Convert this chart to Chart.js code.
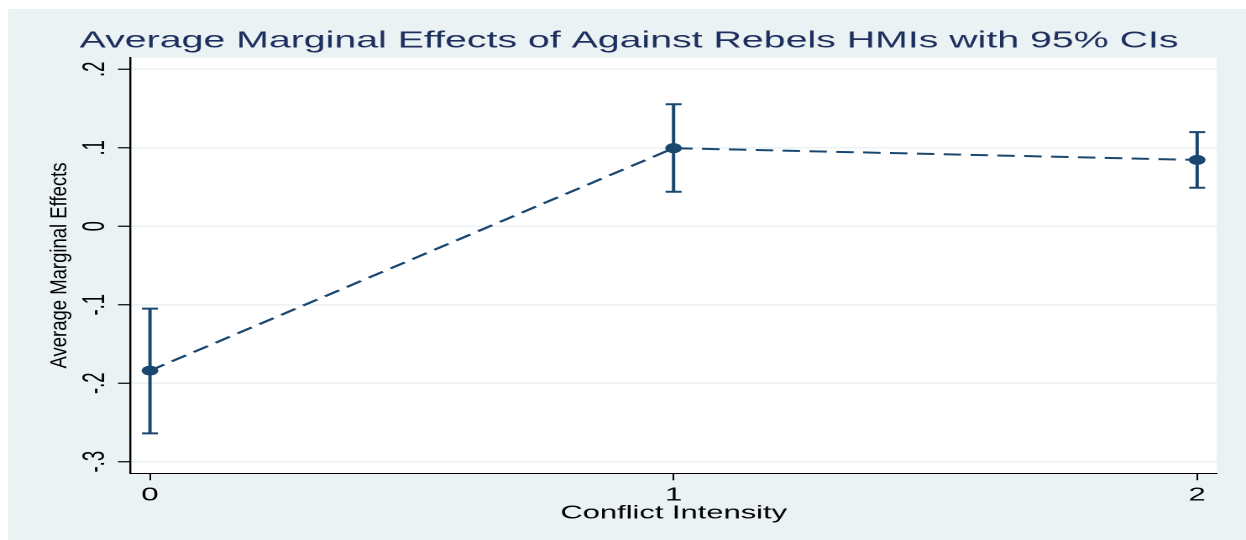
<!DOCTYPE html>
<html>
<head>
<meta charset="utf-8">
<script src="https://cdn.jsdelivr.net/npm/chart.js@4/dist/chart.umd.min.js"></script>
<style>
  html, body { margin: 0; padding: 0; background: #ffffff; overflow: hidden; }
  /* The graph is laid out on a narrower canvas and widened horizontally. */
  #wrap { width: 742px; height: 540px; transform: scaleX(1.679245); transform-origin: 0 0; }
  canvas { display: block; }
</style>
</head>
<body>
<div id="wrap"><canvas id="ame" width="742" height="540"></canvas></div>
<script>
// Conflict intensity levels and average marginal effects with 95% CIs
const intensity = [0, 1, 2];
const margins   = [-0.184, 0.0995, 0.0845];
const ciLower   = [-0.264, 0.044, 0.049];
const ciUpper   = [-0.105, 0.1555, 0.12];

const xTickValues = [0, 1, 2];
const xTickLabels = ['0', '1', '2'];
const yTickValues = [-0.3, -0.2, -0.1, 0, 0.1, 0.2];
const yTickLabels = ['-.3', '-.2', '-.1', '0', '.1', '.2'];

const NAVY = '#1A476F';
const TITLE_NAVY = '#1E2F5E';
const REGION = '#EAF2F3';
const FONT = '"Liberation Sans", Arial, Helvetica, sans-serif';
const STRETCH = 1246 / 742;

// Graph region, plot region
const backdrop = {
  id: 'backdrop',
  beforeDraw(chart) {
    const { ctx, width, height, chartArea: a } = chart;
    ctx.save();
    ctx.fillStyle = '#ffffff';
    ctx.fillRect(0, 0, width, height);
    ctx.fillStyle = REGION;
    ctx.fillRect(8 / STRETCH, 9, width, height);
    ctx.fillStyle = '#ffffff';
    ctx.fillRect(a.left, a.top, a.right - a.left, a.bottom - a.top);
    ctx.restore();
  }
};

// Capped confidence-interval spikes
const ciBars = {
  id: 'ciBars',
  afterDatasetsDraw(chart) {
    const { ctx } = chart;
    const xs = chart.scales.x, ys = chart.scales.y;
    const cap = 4.75;
    ctx.save();
    ctx.strokeStyle = NAVY;
    ctx.lineWidth = 2;
    ctx.lineCap = 'butt';
    intensity.forEach((v, i) => {
      const x = xs.getPixelForValue(v);
      const yHi = ys.getPixelForValue(ciUpper[i]);
      const yLo = ys.getPixelForValue(ciLower[i]);
      ctx.beginPath();
      ctx.moveTo(x, yHi); ctx.lineTo(x, yLo);
      ctx.moveTo(x - cap, yHi); ctx.lineTo(x + cap, yHi);
      ctx.moveTo(x - cap, yLo); ctx.lineTo(x + cap, yLo);
      ctx.stroke();
    });
    ctx.restore();
  }
};

// Vertical y-axis title, set in a condensed face
const yTitle = {
  id: 'yTitle',
  afterDraw(chart) {
    const { ctx, chartArea: a } = chart;
    const text = 'Average Marginal Effects';
    ctx.save();
    ctx.translate(39.7, (a.top + a.bottom) / 2);
    ctx.rotate(-Math.PI / 2);
    ctx.font = '14.2px ' + FONT;
    const w = ctx.measureText(text).width;
    ctx.scale(206 / w, 1);
    ctx.fillStyle = '#000000';
    ctx.textAlign = 'center';
    ctx.textBaseline = 'alphabetic';
    ctx.fillText(text, 0, 0);
    ctx.restore();
  }
};

new Chart(document.getElementById('ame'), {
  type: 'line',
  data: {
    datasets: [{
      data: intensity.map((v, i) => ({ x: v, y: margins[i] })),
      borderColor: NAVY,
      borderWidth: 2,
      borderDash: [10.4, 5.6],
      backgroundColor: NAVY,
      pointBackgroundColor: NAVY,
      pointBorderWidth: 0,
      pointRadius: 5,
      pointHoverRadius: 5,
      tension: 0,
      fill: false
    }]
  },
  options: {
    responsive: false,
    animation: false,
    devicePixelRatio: 2,
    layout: { padding: { left: 24.6, right: 17.4, top: 0, bottom: 0 } },
    plugins: {
      legend: { display: false },
      tooltip: { enabled: false },
      title: {
        display: true,
        text: 'Average Marginal Effects of Against Rebels HMIs with 95% CIs',
        color: TITLE_NAVY,
        font: { family: FONT, size: 23.4, weight: 'normal' },
        padding: { top: 26.9, bottom: 2.7 }
      }
    },
    scales: {
      x: {
        type: 'linear',
        min: -0.0369,
        max: 2.0375,
        afterBuildTicks(s) { s.ticks = xTickValues.map(v => ({ value: v })); },
        afterFit(s) { s.height = 66.7; },
        ticks: {
          callback(v) { const i = xTickValues.indexOf(v); return i >= 0 ? xTickLabels[i] : ''; },
          color: '#000000',
          font: { family: FONT, size: 18.5 },
          padding: 4.2,
          maxRotation: 0,
          minRotation: 0
        },
        grid: {
          display: true,
          drawOnChartArea: false,
          drawTicks: true,
          tickLength: 7,
          tickColor: '#000000',
          tickWidth: 1
        },
        border: { display: true, color: '#000000', width: 1 },
        title: {
          display: true,
          text: 'Conflict Intensity',
          color: '#000000',
          font: { family: FONT, size: 18.4 },
          padding: { top: 0, bottom: 15.4 }
        }
      },
      y: {
        type: 'linear',
        min: -0.3148,
        max: 0.2148,
        afterBuildTicks(s) { s.ticks = yTickValues.map(v => ({ value: v })); },
        afterFit(s) { s.width = 53.2; },
        ticks: {
          callback(v) {
            const i = yTickValues.findIndex(t => Math.abs(t - v) < 1e-9);
            return i >= 0 ? yTickLabels[i] : '';
          },
          color: '#000000',
          font: { family: FONT, size: 18.5 },
          padding: 2.4,
          minRotation: 90,
          maxRotation: 90,
          crossAlign: 'center'
        },
        grid: {
          display: true,
          drawOnChartArea: true,
          drawTicks: true,
          color: REGION,
          lineWidth: 1.5,
          tickLength: 7.5,
          tickColor: '#000000',
          tickWidth: 1.2
        },
        border: { display: true, color: '#000000', width: 1.2 },
        title: { display: false }
      }
    }
  },
  plugins: [backdrop, ciBars, yTitle]
});
</script>
</body>
</html>
